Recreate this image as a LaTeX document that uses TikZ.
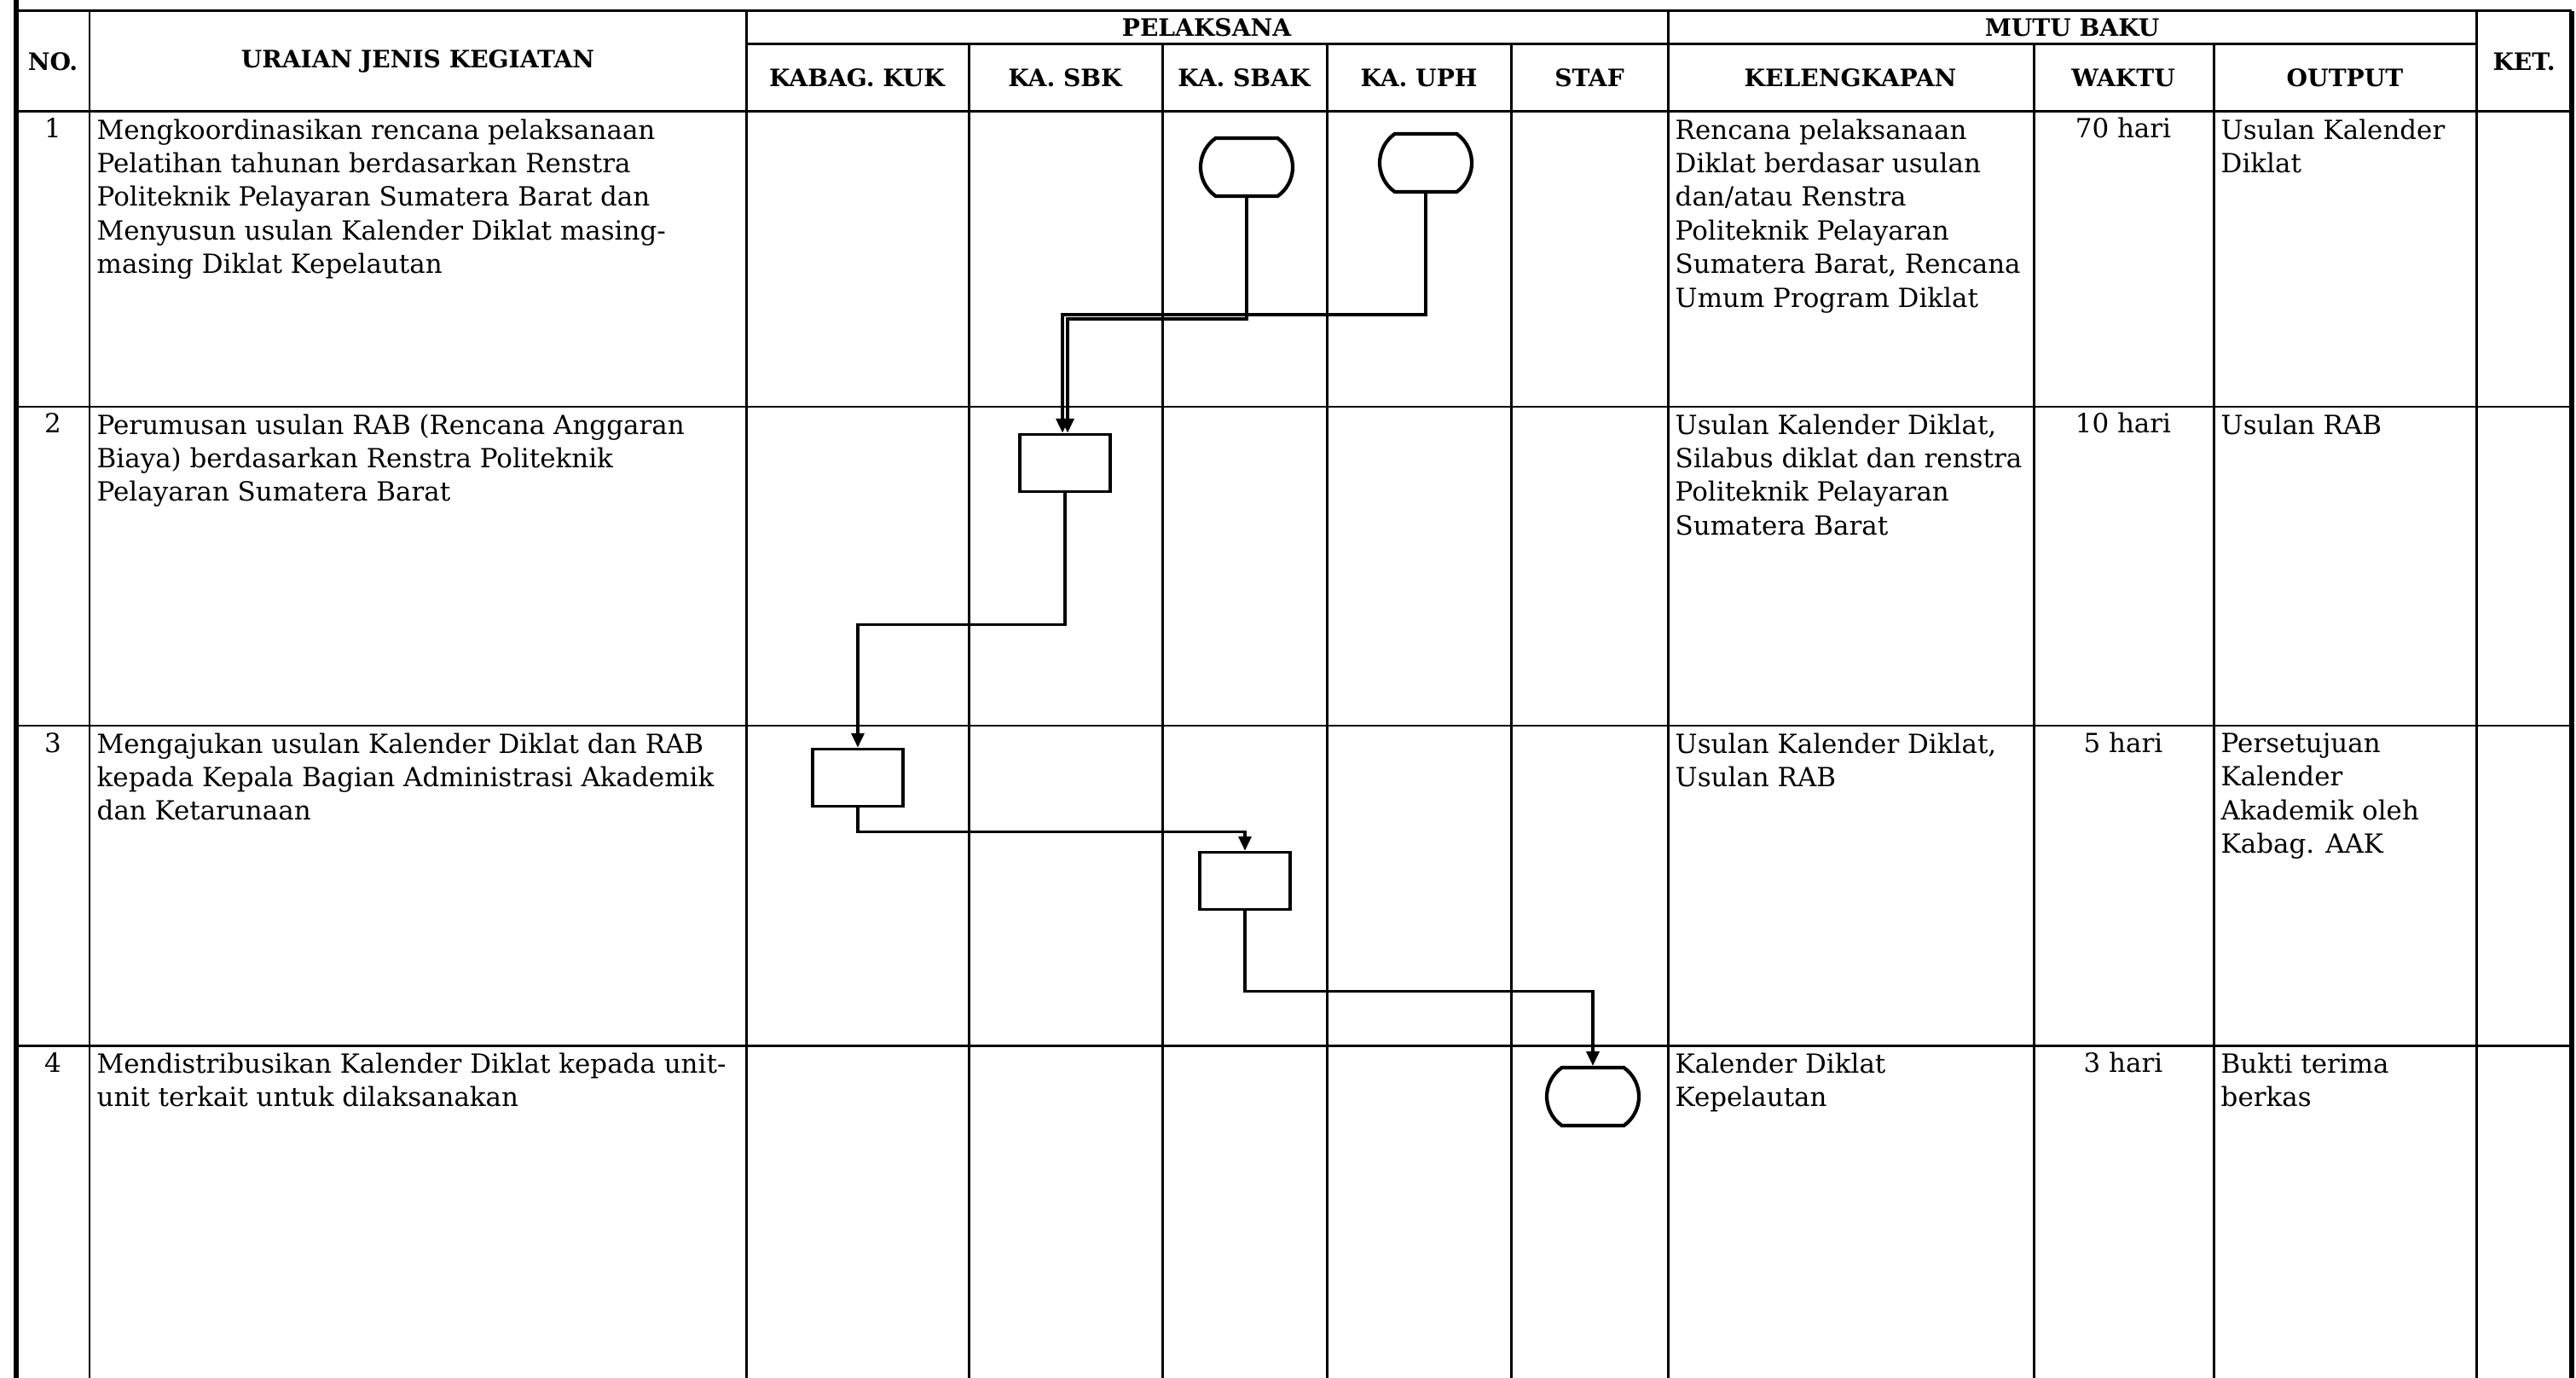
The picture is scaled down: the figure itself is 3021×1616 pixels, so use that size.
\documentclass[tikz,border=0pt]{standalone}
\usepackage{fontspec}
\setmainfont{DejaVu Serif}
\usetikzlibrary{arrows.meta,shapes.misc}

\tikzset{
  rule/.style={line width=0.85pt},
  frame/.style={line width=1.8pt},
  hdr/.style={inner sep=0pt, font=\bfseries\fontsize{8}{9.6}\selectfont},
  txt/.style={anchor=north west, align=left, inner sep=0pt, font=\fontsize{8.8}{11.2}\selectfont},
  num/.style={anchor=base, inner sep=0pt, font=\fontsize{8.8}{11.2}\selectfont},
  proc/.style={draw, line width=1.05pt, minimum width=1.06cm, minimum height=0.67cm, inner sep=0pt},
  term/.style={draw, rounded rectangle, rounded rectangle arc length=110, line width=1.2pt,
    minimum width=1.08cm, minimum height=0.68cm, inner sep=0pt},
  flow/.style={line width=0.95pt, -{Triangle[length=4.8pt,width=4.3pt]}}
}

\begin{document}
\begin{tikzpicture}[x=0.01cm,y=-0.01cm]
  \useasboundingbox (0,0) rectangle (3021,1616);
  \draw[frame] (19,0) -- (19,1616);
  \draw[frame] (3016,13) -- (3016,1616);
  \foreach \y in {13,131,477,851,1226}
  \draw[rule] (19,\y) -- (3016,\y);
  \draw[rule] (875,52) -- (2904,52);
  \foreach \x in {105,875,1956,2904}
  \draw[rule] (\x,13) -- (\x,1616);
  \foreach \x in {1136,1363,1556,1772,2385,2596}
  \draw[rule] (\x,52) -- (\x,1616);

  \node[hdr] (hno) at (62,72) {NO.};
  \node[hdr] (hact) at (490,72) {URAIAN JENIS KEGIATAN};
  \node[hdr] (hpel) at (1415,32) {PELAKSANA};
  \node[hdr] (hmutu) at (2430,32) {MUTU BAKU};
  \node[hdr] (hket) at (2960,72) {KET.};
  \node[hdr] (hkuk) at (1005,91) {KABAG. KUK};
  \node[hdr] (hsbk) at (1249,91) {KA. SBK};
  \node[hdr] (hsbak) at (1459,91) {KA. SBAK};
  \node[hdr] (huph) at (1664,91) {KA. UPH};
  \node[hdr] (hstaf) at (1864,91) {STAF};
  \node[hdr] (hkel) at (2170,91) {KELENGKAPAN};
  \node[hdr] (hwkt) at (2490,91) {WAKTU};
  \node[hdr] (hout) at (2750,91) {OUTPUT};

  \foreach \i/\y in {1/162,2/508,3/882,4/1257}
  \node[num] (n\i) at (62,\y) {\i};

  \node[txt] (act1) at (113,139) {Mengkoordinasikan rencana pelaksanaan\\Pelatihan tahunan berdasarkan Renstra\\Politeknik Pelayaran Sumatera Barat dan\\Menyusun usulan Kalender Diklat masing-\\masing Diklat Kepelautan};
  \node[txt] (kel1) at (1964,139) {Rencana pelaksanaan\\Diklat berdasar usulan\\dan/atau Renstra\\Politeknik Pelayaran\\Sumatera Barat, Rencana\\Umum Program Diklat};
  \node[num] (wkt1) at (2490,162) {70 hari};
  \node[txt] (out1) at (2604,139) {Usulan Kalender\\Diklat};

  \node[txt] (act2) at (113,485) {Perumusan usulan RAB (Rencana Anggaran\\Biaya) berdasarkan Renstra Politeknik\\Pelayaran Sumatera Barat};
  \node[txt] (kel2) at (1964,485) {Usulan Kalender Diklat,\\Silabus diklat dan renstra\\Politeknik Pelayaran\\Sumatera Barat};
  \node[num] (wkt2) at (2490,508) {10 hari};
  \node[txt] (out2) at (2604,485) {Usulan RAB};

  \node[txt] (act3) at (113,859) {Mengajukan usulan Kalender Diklat dan RAB\\kepada Kepala Bagian Administrasi Akademik\\dan Ketarunaan};
  \node[txt] (kel3) at (1964,859) {Usulan Kalender Diklat,\\Usulan RAB};
  \node[num] (wkt3) at (2490,882) {5 hari};
  \node[txt] (out3) at (2604,859) {Persetujuan\\Kalender\\Akademik oleh\\Kabag. AAK};

  \node[txt] (act4) at (113,1234) {Mendistribusikan Kalender Diklat kepada unit-\\unit terkait untuk dilaksanakan};
  \node[txt] (kel4) at (1964,1234) {Kalender Diklat\\Kepelautan};
  \node[num] (wkt4) at (2490,1257) {3 hari};
  \node[txt] (out4) at (2604,1234) {Bukti terima\\berkas};

  \node[term] (t1) at (1462,196) {};
  \node[term] (t2) at (1672,191) {};
  \node[proc] (b2) at (1249,543) {};
  \node[proc] (b3) at (1006,912) {};
  \node[proc] (b4) at (1460,1033) {};
  \node[term] (t3) at (1868,1286) {};

  \draw[flow] (t2.south) -- ++(0,142) -| ([xshift=-0.03cm]b2.north);
  \draw[flow] (t1.south) -- ++(0,142) -| ([xshift=0.03cm]b2.north);
  \draw[flow] (b2.south) -- ++(0,154) -| (b3.north);
  \draw[flow] (b3.south) -- ++(0,28) -| (b4.north);
  \draw[flow] (b4.south) -- ++(0,94) -| (t3.north);
\end{tikzpicture}
\end{document}
